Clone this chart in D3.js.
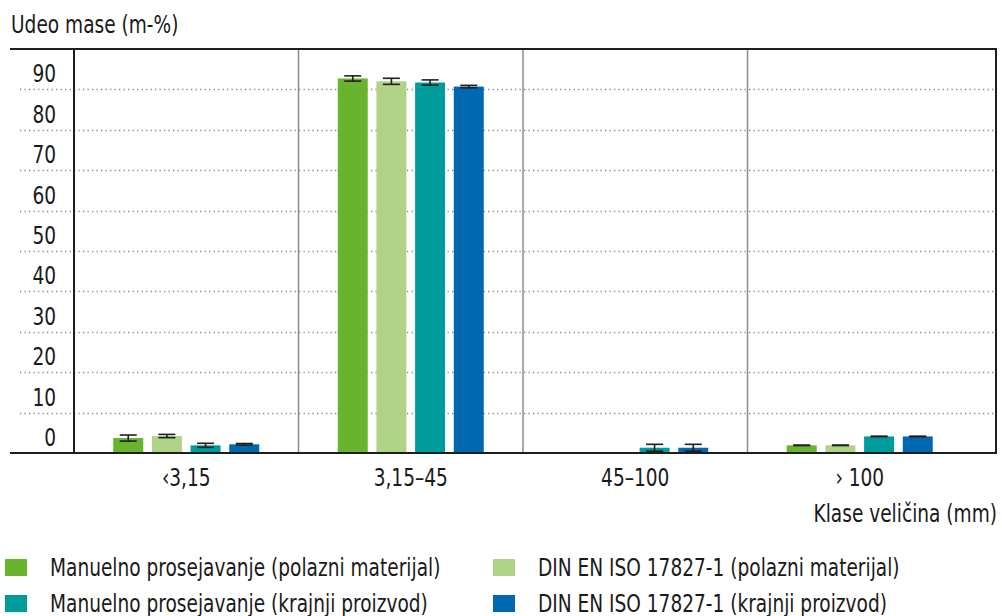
<!DOCTYPE html>
<html>
<head>
<meta charset="utf-8">
<script src="https://cdn.jsdelivr.net/npm/d3@7"></script>
<style>
  html, body { margin: 0; padding: 0; background: #fff; }
  svg { display: block; }
  text { font-family: "DejaVu Sans Condensed", "DejaVu Sans", sans-serif; fill: #1a1a1a; }
</style>
</head>
<body>
<svg id="chart" width="1002" height="616"></svg>
<script>
// Size classes (mm) on the x axis
const categories = ["‹3,15", "3,15–45", "45–100", "› 100"];

// Series names, in legend order
const seriesNames = [
  "Manuelno prosejavanje (polazni materijal)",
  "DIN EN ISO 17827-1 (polazni materijal)",
  "Manuelno prosejavanje (krajnji proizvod)",
  "DIN EN ISO 17827-1 (krajnji proizvod)"
];

// Mass share per size class (m-%), one array per series
const manualRaw    = [3.7, 92.7, 0.0, 1.9];
const dinRaw       = [4.2, 92.0, 0.0, 1.9];
const manualFinal  = [1.9, 91.7, 1.3, 4.1];
const dinFinal     = [2.15, 90.7, 1.3, 4.1];

// Standard deviation (half-length of each error bar)
const manualRawErr   = [0.75, 0.65, 0.0, 0.05];
const dinRawErr      = [0.4, 0.75, 0.0, 0.05];
const manualFinalErr = [0.5, 0.65, 0.85, 0.05];
const dinFinalErr    = [0.2, 0.3, 0.85, 0.05];

const yTicks = [0, 10, 20, 30, 40, 50, 60, 70, 80, 90];

const seriesColors = ["#69b32e", "#b1d388", "#009b9b", "#0068b1"];

const seriesValues = [manualRaw, dinRaw, manualFinal, dinFinal];
const seriesErrors = [manualRawErr, dinRawErr, manualFinalErr, dinFinalErr];

const svg = d3.select("#chart");

const plot = { left: 74, right: 996, top: 49, bottom: 453 };
const fontSize = 24;
const squeeze = 0.86;   // horizontal condensing of all labels

// Place a horizontally condensed label at (x, y)
function label(parent, x, y, str, anchor) {
  return parent.append("text")
    .attr("transform", `translate(${x},${y}) scale(${squeeze},1)`)
    .attr("text-anchor", anchor || "start")
    .attr("font-size", fontSize)
    .text(str);
}

const y = d3.scaleLinear().domain([0, 100]).range([plot.bottom, plot.top]);

const x0 = d3.scaleBand()
  .domain(categories)
  .range([plot.left, plot.left + 898])
  .paddingInner(0)
  .paddingOuter(0);

const groupHalf = 73;
const x1 = d3.scaleBand()
  .domain(d3.range(seriesNames.length))
  .range([x0.bandwidth() / 2 - groupHalf, x0.bandwidth() / 2 + groupHalf])
  .paddingInner(0.225)
  .paddingOuter(0);

// Dotted gridlines (values above zero)
svg.append("g")
  .selectAll("line")
  .data(yTicks.filter(d => d > 0))
  .join("line")
  .attr("x1", 20)
  .attr("x2", plot.right)
  .attr("y1", d => Math.round(y(d)) + 0.5)
  .attr("y2", d => Math.round(y(d)) + 0.5)
  .attr("stroke", "#8a8a8a")
  .attr("stroke-width", 1.3)
  .attr("stroke-dasharray", "1.3,3.2");

// Category separators
svg.append("g")
  .selectAll("line")
  .data(categories.slice(1))
  .join("line")
  .attr("x1", d => x0(d))
  .attr("x2", d => x0(d))
  .attr("y1", plot.top)
  .attr("y2", plot.bottom)
  .attr("stroke", "#8c8c8c")
  .attr("stroke-width", 1.5);

// Y tick labels, set just above their gridline
const yLabels = svg.append("g");
yTicks.forEach(t => label(yLabels, 56, y(t) - 7, t, "end"));

// Bars
const groups = svg.append("g")
  .selectAll("g")
  .data(categories)
  .join("g")
  .attr("transform", d => `translate(${x0(d)},0)`);

groups.selectAll("rect")
  .data((d, ci) => seriesValues.map((vals, si) => ({ si, v: vals[ci] })))
  .join("rect")
  .attr("x", d => x1(d.si))
  .attr("width", x1.bandwidth())
  .attr("y", d => y(d.v))
  .attr("height", d => y(0) - y(d.v))
  .attr("fill", d => seriesColors[d.si]);

// Error bars
const capHalf = 8.5;
const err = groups.selectAll("g.err")
  .data((d, ci) => seriesValues.map((vals, si) => ({ si, v: vals[ci], e: seriesErrors[si][ci] })))
  .join("g")
  .attr("class", "err")
  .attr("transform", d => `translate(${x1(d.si) + x1.bandwidth() / 2},0)`)
  .attr("stroke", "#1e1e1e")
  .attr("stroke-width", 1.6);

err.append("line")
  .attr("y1", d => y(d.v + d.e))
  .attr("y2", d => y(Math.max(0, d.v - d.e)));
err.append("line")
  .attr("x1", -capHalf).attr("x2", capHalf)
  .attr("y1", d => y(d.v + d.e)).attr("y2", d => y(d.v + d.e));
err.append("line")
  .attr("x1", -capHalf).attr("x2", capHalf)
  .attr("y1", d => y(Math.max(0, d.v - d.e))).attr("y2", d => y(Math.max(0, d.v - d.e)));

// Frame: top rule, y axis, right edge, baseline
const frame = svg.append("g").attr("stroke", "#1e1e1e").attr("stroke-width", 2);
frame.append("line").attr("x1", 10).attr("x2", plot.right + 1).attr("y1", plot.top).attr("y2", plot.top);
frame.append("line").attr("x1", plot.left).attr("x2", plot.left).attr("y1", plot.top).attr("y2", plot.bottom);
frame.append("line").attr("x1", plot.right).attr("x2", plot.right).attr("y1", plot.top).attr("y2", plot.bottom);
frame.append("line").attr("x1", 10).attr("x2", plot.right + 1).attr("y1", plot.bottom).attr("y2", plot.bottom);

// X category labels
const xLabels = svg.append("g");
categories.forEach(c => label(xLabels, x0(c) + x0.bandwidth() / 2, 486, c, "middle"));

// Axis titles
label(svg, 11, 33, "Udeo mase (m-%)");
label(svg, 997, 522, "Klase veličina (mm)", "end");

// Legend, two columns
const legendCols = [5, 493];
const legendRows = [568, 604];
const legend = svg.append("g")
  .selectAll("g")
  .data(seriesNames)
  .join("g")
  .attr("transform", (d, i) => `translate(${legendCols[i % 2]},${legendRows[Math.floor(i / 2)]})`);

legend.append("rect")
  .attr("x", 0).attr("y", -9)
  .attr("width", 22).attr("height", 17)
  .attr("fill", (d, i) => seriesColors[i]);

legend.each(function (d) { label(d3.select(this), 45, 8, d); });
</script>
</body>
</html>
